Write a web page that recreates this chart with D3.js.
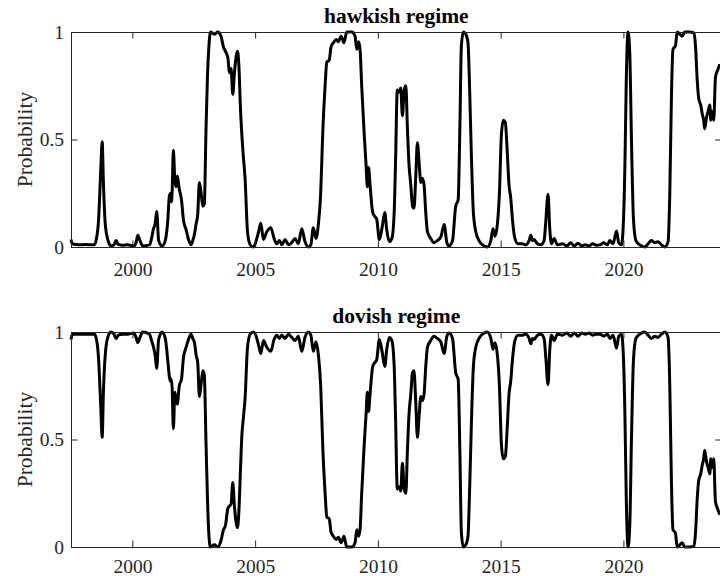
<!DOCTYPE html>
<html>
<head>
<meta charset="utf-8">
<script src="https://cdn.jsdelivr.net/npm/d3@7"></script>
<style>
  html, body { margin: 0; padding: 0; background: #fff; }
  svg { display: block; }
  text { font-family: "Liberation Serif", "Times New Roman", serif; fill: #262626; }
</style>
</head>
<body>
<svg id="chart" width="720" height="576"></svg>
<script>
// Sample dates (decimal years)
const dates = [
  1997.50, 1997.55, 1997.80, 1998.10, 1998.45, 1998.52, 1998.62, 1998.71, 1998.77, 1998.82,
  1998.90, 1999.01, 1999.13, 1999.25, 1999.34, 1999.42, 1999.60, 1999.80, 2000.05, 2000.15,
  2000.22, 2000.31, 2000.42, 2000.70, 2000.78, 2000.86, 2000.93, 2000.99, 2001.07, 2001.21,
  2001.34, 2001.44, 2001.51, 2001.56, 2001.59, 2001.62, 2001.67, 2001.73, 2001.78, 2001.83,
  2001.91, 2002.00, 2002.08, 2002.19, 2002.30, 2002.39, 2002.46, 2002.53, 2002.60, 2002.66,
  2002.73, 2002.80, 2002.87, 2002.93, 2003.00, 2003.06, 2003.11, 2003.18, 2003.34, 2003.48,
  2003.61, 2003.71, 2003.79, 2003.89, 2003.95, 2004.02, 2004.09, 2004.15, 2004.28, 2004.34,
  2004.40, 2004.46, 2004.52, 2004.59, 2004.69, 2004.80, 2004.93, 2005.07, 2005.16, 2005.23,
  2005.34, 2005.47, 2005.64, 2005.77, 2005.88, 2005.99, 2006.09, 2006.22, 2006.36, 2006.49,
  2006.63, 2006.76, 2006.90, 2007.03, 2007.17, 2007.27, 2007.37, 2007.48, 2007.58, 2007.67,
  2007.76, 2007.85, 2007.92, 2008.02, 2008.09, 2008.19, 2008.30, 2008.39, 2008.50, 2008.62,
  2008.73, 2008.94, 2009.07, 2009.14, 2009.22, 2009.28, 2009.34, 2009.44, 2009.52, 2009.57,
  2009.62, 2009.68, 2009.79, 2009.89, 2009.95, 2010.06, 2010.17, 2010.28, 2010.36, 2010.47,
  2010.57, 2010.66, 2010.72, 2010.79, 2010.86, 2010.93, 2011.00, 2011.07, 2011.14, 2011.20,
  2011.27, 2011.34, 2011.41, 2011.47, 2011.54, 2011.61, 2011.68, 2011.75, 2011.81, 2011.88,
  2011.95, 2012.02, 2012.15, 2012.29, 2012.42, 2012.56, 2012.70, 2012.81, 2012.90, 2013.04,
  2013.17, 2013.27, 2013.34, 2013.40, 2013.48, 2013.58, 2013.67, 2013.74, 2013.81, 2013.89,
  2013.99, 2014.12, 2014.26, 2014.46, 2014.60, 2014.69, 2014.77, 2014.87, 2014.95, 2015.03,
  2015.11, 2015.19, 2015.27, 2015.34, 2015.41, 2015.48, 2015.58, 2015.71, 2015.89, 2016.02,
  2016.16, 2016.23, 2016.30, 2016.36, 2016.50, 2016.64, 2016.77, 2016.84, 2016.93, 2017.00,
  2017.07, 2017.18, 2017.31, 2017.52, 2017.70, 2017.85, 2018.00, 2018.15, 2018.30, 2018.45,
  2018.60, 2018.75, 2018.90, 2019.05, 2019.20, 2019.35, 2019.45, 2019.58, 2019.72, 2019.81,
  2019.92, 2019.99, 2020.06, 2020.12, 2020.19, 2020.26, 2020.33, 2020.41, 2020.51, 2020.67,
  2020.87, 2021.01, 2021.14, 2021.28, 2021.41, 2021.55, 2021.69, 2021.82, 2021.89, 2021.96,
  2022.02, 2022.12, 2022.19, 2022.30, 2022.39, 2022.50, 2022.70, 2022.88, 2022.94, 2023.01,
  2023.07, 2023.15, 2023.21, 2023.27, 2023.31, 2023.38, 2023.45, 2023.52, 2023.56, 2023.61,
  2023.68, 2023.75, 2023.83, 2023.93
];

// Smoothed probability of the hawkish regime
const hawkishProb = [
  0.035, 0.015, 0.010, 0.012, 0.010, 0.030, 0.120, 0.350, 0.490, 0.300,
  0.100, 0.030, 0.005, 0.010, 0.030, 0.012, 0.008, 0.010, 0.005, 0.020,
  0.055, 0.030, 0.005, 0.010, 0.040, 0.085, 0.110, 0.165, 0.030, 0.005,
  0.030, 0.120, 0.240, 0.250, 0.210, 0.260, 0.450, 0.310, 0.280, 0.330,
  0.270, 0.220, 0.125, 0.080, 0.030, 0.010, 0.030, 0.060, 0.110, 0.150,
  0.300, 0.250, 0.190, 0.200, 0.550, 0.800, 0.920, 1.000, 0.990, 1.000,
  0.980, 0.930, 0.910, 0.880, 0.810, 0.830, 0.710, 0.800, 0.910, 0.840,
  0.650, 0.520, 0.420, 0.320, 0.070, 0.010, 0.000, 0.040, 0.080, 0.110,
  0.035, 0.070, 0.090, 0.040, 0.015, 0.030, 0.010, 0.035, 0.010, 0.020,
  0.040, 0.015, 0.085, 0.025, 0.000, 0.010, 0.090, 0.040, 0.110, 0.250,
  0.550, 0.750, 0.860, 0.870, 0.930, 0.950, 0.965, 0.955, 0.980, 0.950,
  1.000, 1.000, 0.980, 0.920, 0.955, 0.910, 0.750, 0.530, 0.380, 0.280,
  0.370, 0.290, 0.160, 0.140, 0.130, 0.035, 0.090, 0.160, 0.080, 0.025,
  0.040, 0.150, 0.400, 0.730, 0.720, 0.740, 0.610, 0.730, 0.750, 0.560,
  0.380, 0.290, 0.190, 0.180, 0.320, 0.485, 0.390, 0.300, 0.320, 0.290,
  0.160, 0.070, 0.040, 0.020, 0.030, 0.045, 0.105, 0.020, 0.005, 0.030,
  0.190, 0.220, 0.560, 0.935, 1.000, 0.990, 0.950, 0.720, 0.420, 0.160,
  0.070, 0.030, 0.010, 0.000, 0.030, 0.085, 0.050, 0.110, 0.250, 0.520,
  0.590, 0.580, 0.440, 0.290, 0.230, 0.130, 0.040, 0.015, 0.015, 0.010,
  0.030, 0.055, 0.030, 0.035, 0.015, 0.010, 0.030, 0.120, 0.245, 0.085,
  0.015, 0.040, 0.010, 0.015, 0.005, 0.020, 0.005, 0.018, 0.005, 0.010,
  0.005, 0.015, 0.008, 0.010, 0.020, 0.010, 0.030, 0.015, 0.075, 0.020,
  0.010, 0.090, 0.370, 0.790, 1.000, 0.900, 0.490, 0.130, 0.030, 0.010,
  0.000, 0.015, 0.030, 0.020, 0.025, 0.010, 0.000, 0.025, 0.250, 0.720,
  0.920, 0.935, 1.000, 0.990, 0.980, 1.000, 1.000, 0.995, 0.930, 0.770,
  0.690, 0.660, 0.620, 0.590, 0.550, 0.600, 0.630, 0.660, 0.590, 0.630,
  0.590, 0.790, 0.820, 0.850
];

// Smoothed probability of the dovish regime
const dovishProb = [
  0.965, 0.990, 0.990, 0.990, 0.990, 0.975, 0.880, 0.660, 0.510, 0.720,
  0.900, 0.980, 1.000, 0.990, 0.970, 0.985, 0.990, 0.990, 0.995, 0.975,
  0.950, 0.975, 1.000, 0.990, 0.960, 0.930, 0.890, 0.830, 0.965, 1.000,
  0.970, 0.870, 0.790, 0.770, 0.780, 0.740, 0.550, 0.720, 0.690, 0.665,
  0.750, 0.780, 0.880, 0.930, 0.970, 0.990, 0.970, 0.950, 0.890, 0.860,
  0.700, 0.760, 0.820, 0.800, 0.480, 0.220, 0.070, 0.000, 0.010, 0.000,
  0.030, 0.080, 0.100, 0.180, 0.190, 0.200, 0.300, 0.200, 0.090, 0.170,
  0.350, 0.520, 0.600, 0.690, 0.930, 0.990, 1.000, 0.970, 0.930, 0.900,
  0.960, 0.930, 0.910, 0.965, 0.985, 0.970, 0.985, 0.970, 0.990, 0.975,
  0.960, 0.980, 0.910, 0.975, 1.000, 0.985, 0.910, 0.955, 0.890, 0.750,
  0.450, 0.250, 0.140, 0.130, 0.070, 0.050, 0.035, 0.045, 0.020, 0.050,
  0.000, 0.000, 0.020, 0.080, 0.050, 0.090, 0.250, 0.470, 0.620, 0.720,
  0.630, 0.710, 0.840, 0.860, 0.870, 0.965, 0.910, 0.840, 0.920, 0.975,
  0.960, 0.850, 0.600, 0.270, 0.280, 0.260, 0.390, 0.270, 0.250, 0.440,
  0.620, 0.710, 0.810, 0.820, 0.680, 0.510, 0.610, 0.700, 0.680, 0.710,
  0.840, 0.930, 0.960, 0.980, 0.970, 0.955, 0.900, 0.980, 0.995, 0.970,
  0.810, 0.780, 0.440, 0.070, 0.000, 0.010, 0.050, 0.280, 0.580, 0.840,
  0.930, 0.970, 0.990, 1.000, 0.970, 0.920, 0.950, 0.890, 0.750, 0.480,
  0.410, 0.420, 0.560, 0.710, 0.770, 0.870, 0.960, 0.985, 0.985, 0.990,
  0.970, 0.945, 0.970, 0.965, 0.985, 0.990, 0.970, 0.880, 0.755, 0.915,
  0.985, 0.960, 0.990, 0.985, 0.995, 0.980, 0.995, 0.980, 0.995, 0.990,
  0.995, 0.985, 0.990, 0.990, 0.980, 0.990, 0.970, 0.985, 0.925, 0.980,
  0.990, 0.910, 0.630, 0.210, 0.000, 0.100, 0.510, 0.870, 0.970, 0.990,
  1.000, 0.985, 0.970, 0.980, 0.975, 0.990, 1.000, 0.975, 0.750, 0.280,
  0.080, 0.065, 0.000, 0.010, 0.020, 0.000, 0.000, 0.005, 0.070, 0.230,
  0.310, 0.340, 0.380, 0.410, 0.450, 0.400, 0.370, 0.340, 0.410, 0.370,
  0.410, 0.210, 0.180, 0.150
];

const panelTitles = ["hawkish regime", "dovish regime"];
const xTickYears = [2000, 2005, 2010, 2015, 2020];
const yTickValues = [0, 0.5, 1];
const yTickLabels = ["0", "0.5", "1"];
const xDomain = [1997.5, 2024];

const svg = d3.select("#chart");
const left = 71, right = 721.6;
const panels = [
  { top: 32, bottom: 247, values: hawkishProb, title: panelTitles[0], labelPad: 14.8 },
  { top: 332, bottom: 547, values: dovishProb, title: panelTitles[1], labelPad: 11.8 }
];

const x = d3.scaleLinear().domain(xDomain).range([left, right]);
const tickLen = 6.5;
const axisColor = "#262626";

panels.forEach(p => {
  const y = d3.scaleLinear().domain([0, 1]).range([p.bottom, p.top]);
  const g = svg.append("g");

  // Line of the regime probability
  const pts = dates.map((d, i) => [d, p.values[i]]);
  const line = d3.line().x(d => x(d[0])).y(d => y(d[1])).curve(d3.curveMonotoneX);
  g.append("path")
    .datum(pts)
    .attr("d", line)
    .attr("fill", "none")
    .attr("stroke", "#000")
    .attr("stroke-width", 3)
    .attr("stroke-linejoin", "round");

  // Bottom axis with labels, inward ticks
  const xb = g.append("g")
    .attr("transform", `translate(0,${p.bottom})`)
    .call(d3.axisBottom(x).tickValues(xTickYears).tickFormat(d3.format("d"))
      .tickSizeInner(-tickLen).tickSizeOuter(0).tickPadding(p.labelPad));
  // Top axis, ticks only
  const xt = g.append("g")
    .attr("transform", `translate(0,${p.top})`)
    .call(d3.axisTop(x).tickValues(xTickYears).tickFormat("")
      .tickSizeInner(-tickLen).tickSizeOuter(0));
  // Left axis with labels
  const yl = g.append("g")
    .attr("transform", `translate(${left},0)`)
    .call(d3.axisLeft(y).tickValues(yTickValues).tickFormat((d, i) => yTickLabels[i])
      .tickSizeInner(-tickLen).tickSizeOuter(0).tickPadding(7));
  // Right axis, ticks only
  const yr = g.append("g")
    .attr("transform", `translate(${right},0)`)
    .call(d3.axisRight(y).tickValues(yTickValues).tickFormat("")
      .tickSizeInner(-tickLen).tickSizeOuter(0));

  [xb, xt, yl, yr].forEach(a => {
    a.selectAll(".domain").attr("stroke", axisColor).attr("stroke-width", 1);
    a.selectAll(".tick line").attr("stroke", axisColor).attr("stroke-width", 1);
    a.selectAll(".tick text")
      .attr("fill", axisColor)
      .style("font-family", '"Liberation Serif", "Times New Roman", serif')
      .style("font-size", "19.5px");
  });

  // Panel title
  g.append("text")
    .attr("x", (left + right) / 2)
    .attr("y", p.top - 8.7)
    .attr("text-anchor", "middle")
    .style("font-size", "21.5px")
    .style("font-weight", "bold")
    .style("fill", "#000")
    .text(p.title);

  // Y axis label
  g.append("text")
    .attr("transform", `translate(31.5,${(p.top + p.bottom) / 2}) rotate(-90)`)
    .attr("text-anchor", "middle")
    .style("font-size", "21.5px")
    .text("Probability");
});
</script>
</body>
</html>
